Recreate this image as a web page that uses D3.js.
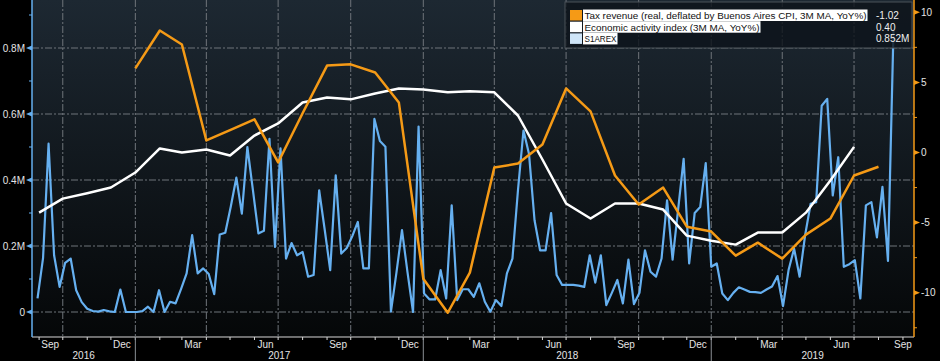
<!DOCTYPE html>
<html lang="en">
<head>
<meta charset="UTF-8">
<title>Tax revenue vs economic activity vs S1AREX</title>
<script src="https://d3js.org/d3.v7.min.js"></script>
<style>
    body { margin: 0; background: #000; }
    svg { display: block; font-family: "Liberation Sans", Arial, sans-serif; }
    .grid line { stroke: #6f747a; stroke-width: 1; stroke-dasharray: 7,2,2,2; }
    .axis-text { fill: #e4e4e4; font-size: 10px; }
</style>
</head>
<body>
<svg></svg>
<script>
    // Tax revenue (real, deflated by Buenos Aires CPI, 3M MA, YoY%), monthly from Dec 2016
    const taxStart = "2016-12";
    const taxValues = [6.0, 8.7, 7.7, 0.86, 1.6, 2.36, -0.71, 2.8, 6.2, 6.29, 5.71, 3.57,
        -9.0, -11.43, -8.57, -1.07, -0.79, 0.57, 4.57, 2.93, -1.64, -3.71, -2.5, -5.29,
        -5.64, -7.36, -6.43, -7.57, -5.86, -4.71, -1.64, -1.02];

    // Economic activity index (3M MA, YoY%), monthly from Aug 2016
    const activityStart = "2016-08";
    const activityValues = [-4.29, -3.29, -2.9, -2.5, -1.43, 0.29, 0.0, 0.21, -0.21, 1.21, 2.07, 3.57,
        3.93, 3.79, 4.21, 4.57, 4.5, 4.29, 4.36, 4.29, 2.64, -0.5, -3.64, -4.71,
        -3.64, -3.64, -4.07, -5.93, -6.29, -6.57, -5.71, -5.71, -4.29, -2.0, 0.40];

    // S1AREX, weekly from 30 Aug 2016, in millions
    const s1arexStart = "2016-08-30";
    const s1arexValues = [
        0.041, 0.163, 0.51, 0.172, 0.076, 0.149, 0.162, 0.066, 0.03, 0.01,
        0.003, 0.001, 0.006, 0.002, 0.0, 0.068, 0.0, 0.0, 0.0, 0.003,
        0.016, 0.0, 0.066, 0.0, 0.031, 0.026, 0.07, 0.117, 0.233, 0.117,
        0.132, 0.115, 0.054, 0.235, 0.24, 0.32, 0.407, 0.298, 0.50, 0.37,
        0.238, 0.246, 0.525, 0.197, 0.496, 0.162, 0.209, 0.172, 0.182, 0.107,
        0.112, 0.369, 0.25, 0.127, 0.414, 0.177, 0.194, 0.23, 0.273, 0.132,
        0.132, 0.585, 0.518, 0.501, 0.001, 0.12, 0.248, 0.12, 0.0, 0.562,
        0.056, 0.038, 0.038, 0.127, 0.041, 0.323, 0.036, 0.069, 0.069, 0.046,
        0.087, 0.031, 0.001, 0.036, 0.018, 0.117, 0.162, 0.369, 0.55, 0.479,
        0.278, 0.187, 0.187, 0.30, 0.112, 0.082, 0.082, 0.082, 0.08, 0.076,
        0.172, 0.089, 0.172, 0.021, 0.058, 0.097, 0.026, 0.159, 0.024, 0.058,
        0.187, 0.122, 0.107, 0.162, 0.338, 0.159, 0.31, 0.464, 0.147, 0.30,
        0.318, 0.451, 0.137, 0.147, 0.056, 0.036, 0.058, 0.075, 0.068, 0.061,
        0.06, 0.058, 0.068, 0.077, 0.109, 0.018, 0.127, 0.192, 0.107, 0.233,
        0.328, 0.333, 0.625, 0.646, 0.353, 0.469, 0.137, 0.145, 0.157, 0.041,
        0.323, 0.333, 0.226, 0.379, 0.155, 0.852];

    const leftTicks = [0, 0.2, 0.4, 0.6, 0.8];
    const leftMinorTicks = [0.1, 0.3, 0.5, 0.7, 0.9];
    const leftTickLabels = ["0", "0.2M", "0.4M", "0.6M", "0.8M"];
    const rightTicks = [-10, -5, 0, 5, 10];
    const rightMinorTicks = [-12.5, -7.5, -2.5, 2.5, 7.5];
    const monthNames = ["Jan", "Feb", "Mar", "Apr", "May", "Jun", "Jul", "Aug", "Sep", "Oct", "Nov", "Dec"];
    const years = [2016, 2017, 2018, 2019];
    const legendLabels = ["Tax revenue (real, deflated by Buenos Aires CPI, 3M MA, YoY%)",
        "Economic activity index (3M MA, YoY%)", "S1AREX"];
    const legendValues = ["-1.02", "0.40", "0.852M"];

    const width = 940, height = 361;
    const plot = { left: 32, right: 914, top: 0, bottom: 337 };
    const blue = "#66b0f0", orange = "#f59a16";

    const parseMonth = d3.timeParse("%Y-%m");
    const parseDay = d3.timeParse("%Y-%m-%d");

    // monthly figures sit at the end of their month
    const monthly = (start, values) => values.map((v, i) => ({
        date: d3.timeMonth.offset(parseMonth(start), i + 1), value: v
    }));
    const taxData = monthly(taxStart, taxValues);
    const activityData = monthly(activityStart, activityValues);
    const s1arexData = s1arexValues.map((v, i) => ({
        date: d3.timeDay.offset(parseDay(s1arexStart), i * 7), value: v
    }));

    const svg = d3.select("svg").attr("width", width).attr("height", height);

    const x = d3.scaleTime()
        .domain([new Date(2016, 7, 23), new Date(2019, 8, 15)])
        .range([plot.left, plot.right]);
    const yL = d3.scaleLinear().domain([0, 0.8]).range([312, 48]);
    const yR = d3.scaleLinear().domain([-10, 10]).range([292.7, 12.3]);

    // plot background
    const defs = svg.append("defs");
    const grad = defs.append("linearGradient")
        .attr("id", "bg").attr("x1", 0).attr("y1", 0).attr("x2", 0).attr("y2", 1);
    grad.append("stop").attr("offset", "0%").attr("stop-color", "#1d2832");
    grad.append("stop").attr("offset", "100%").attr("stop-color", "#050708");
    defs.append("clipPath").attr("id", "clip")
        .append("rect")
        .attr("x", plot.left).attr("y", plot.top)
        .attr("width", plot.right - plot.left).attr("height", plot.bottom - plot.top);

    svg.append("rect")
        .attr("x", plot.left).attr("y", plot.top)
        .attr("width", plot.right - plot.left).attr("height", plot.bottom - plot.top)
        .attr("fill", "url(#bg)");

    // grid
    const grid = svg.append("g").attr("class", "grid");
    grid.selectAll(".h").data(leftTicks).enter().append("line")
        .attr("x1", plot.left).attr("x2", plot.right)
        .attr("y1", d => yL(d)).attr("y2", d => yL(d));
    const quarters = d3.timeMonth.every(3).range(x.domain()[0], x.domain()[1]);
    grid.selectAll(".v").data(quarters).enter().append("line")
        .attr("x1", d => x(d)).attr("x2", d => x(d))
        .attr("y1", plot.top).attr("y2", plot.bottom);

    // series
    const lines = svg.append("g").attr("clip-path", "url(#clip)");
    lines.append("path").datum(s1arexData)
        .attr("fill", "none").attr("stroke", blue).attr("stroke-width", 2.2)
        .attr("stroke-linejoin", "round")
        .attr("d", d3.line().x(d => x(d.date)).y(d => yL(d.value)));
    lines.append("path").datum(activityData)
        .attr("fill", "none").attr("stroke", "#ffffff").attr("stroke-width", 2.5)
        .attr("stroke-linejoin", "round")
        .attr("d", d3.line().x(d => x(d.date)).y(d => yR(d.value)));
    lines.append("path").datum(taxData)
        .attr("fill", "none").attr("stroke", orange).attr("stroke-width", 2.5)
        .attr("stroke-linejoin", "round")
        .attr("d", d3.line().x(d => x(d.date)).y(d => yR(d.value)));

    // x axis
    const xAxis = svg.append("g");
    xAxis.append("line")
        .attr("x1", plot.left).attr("x2", plot.right)
        .attr("y1", plot.bottom).attr("y2", plot.bottom)
        .attr("stroke", "#d8d8d8").attr("stroke-width", 1);
    const months = d3.timeMonth.range(x.domain()[0], x.domain()[1]);
    xAxis.selectAll(".mt").data(months).enter().append("line")
        .attr("x1", d => x(d)).attr("x2", d => x(d))
        .attr("y1", plot.bottom).attr("y2", plot.bottom + 3)
        .attr("stroke", "#d8d8d8");
    const labelled = months.filter(d => d.getMonth() % 3 === 2);
    xAxis.selectAll(".ml").data(labelled).enter().append("text")
        .attr("class", "axis-text")
        .attr("x", d => Math.min(x(d3.timeDay.offset(d, 14)), plot.right - 11))
        .attr("y", 348)
        .attr("text-anchor", "middle")
        .text(d => monthNames[d.getMonth()]);
    xAxis.selectAll(".yl").data(years).enter().append("text")
        .attr("class", "axis-text")
        .attr("x", d => {
            const a = Math.max(x(new Date(d, 0, 1)), plot.left);
            const b = Math.min(x(new Date(d + 1, 0, 1)), plot.right);
            return (a + b) / 2;
        })
        .attr("y", 359)
        .attr("text-anchor", "middle")
        .text(d => d);
    xAxis.selectAll(".ys").data(years.slice(1)).enter().append("line")
        .attr("x1", d => x(new Date(d, 0, 1))).attr("x2", d => x(new Date(d, 0, 1)))
        .attr("y1", plot.bottom).attr("y2", height)
        .attr("stroke", "#8a8f94").attr("stroke-width", 1);

    // left axis
    const left = svg.append("g");
    left.append("line")
        .attr("x1", plot.left).attr("x2", plot.left)
        .attr("y1", plot.top).attr("y2", plot.bottom)
        .attr("stroke", blue).attr("stroke-width", 1.5);
    left.selectAll(".mn").data(leftMinorTicks).enter().append("line")
        .attr("x1", plot.left - 3).attr("x2", plot.left)
        .attr("y1", d => yL(d)).attr("y2", d => yL(d))
        .attr("stroke", blue);
    left.selectAll(".mj").data(leftTicks).enter().append("path")
        .attr("d", d => `M${plot.left},${yL(d) - 2.5}L${plot.left - 6},${yL(d)}L${plot.left},${yL(d) + 2.5}Z`)
        .attr("fill", blue);
    left.selectAll(".lb").data(leftTicks).enter().append("text")
        .attr("class", "axis-text")
        .attr("x", 25).attr("y", d => yL(d) + 3.5)
        .attr("text-anchor", "end")
        .text((d, i) => leftTickLabels[i]);

    // right axis
    const right = svg.append("g");
    right.append("line")
        .attr("x1", plot.right).attr("x2", plot.right)
        .attr("y1", plot.top).attr("y2", plot.bottom)
        .attr("stroke", orange).attr("stroke-width", 1.5);
    right.selectAll(".mn").data(rightMinorTicks).enter().append("line")
        .attr("x1", plot.right).attr("x2", plot.right + 3)
        .attr("y1", d => yR(d)).attr("y2", d => yR(d))
        .attr("stroke", orange);
    right.selectAll(".mj").data(rightTicks).enter().append("path")
        .attr("d", d => `M${plot.right},${yR(d) - 2.5}L${plot.right + 6},${yR(d)}L${plot.right},${yR(d) + 2.5}Z`)
        .attr("fill", orange);
    right.selectAll(".lb").data(rightTicks).enter().append("text")
        .attr("class", "axis-text")
        .attr("x", 921).attr("y", d => yR(d) + 3.5)
        .text(d => d);

    // legend
    const legend = svg.append("g").attr("transform", "translate(565,2)");
    legend.append("rect")
        .attr("width", 347).attr("height", 46)
        .attr("fill", "rgba(14,20,27,0.82)").attr("stroke", "#4b5259");
    const swatchColors = [orange, "#ffffff", "#cfe5f8"];
    const rowY = [17, 28.7, 40.4];
    const labelWidths = [282, 175, 32];
    legendLabels.forEach((label, i) => {
        legend.append("rect")
            .attr("x", 5).attr("y", rowY[i] - 9).attr("width", 12).attr("height", 10.5)
            .attr("fill", swatchColors[i]);
        legend.append("rect")
            .attr("x", 18).attr("y", rowY[i] - 9.5).attr("width", labelWidths[i] + 2.5).attr("height", 11.5)
            .attr("fill", "#ffffff");
        legend.append("text")
            .attr("x", 19.5).attr("y", rowY[i])
            .attr("font-size", "9.6px").attr("fill", "#111")
            .attr("textLength", labelWidths[i]).attr("lengthAdjust", "spacingAndGlyphs")
            .text(label);
        legend.append("text")
            .attr("x", 311).attr("y", rowY[i])
            .attr("font-size", "10px").attr("fill", "#f0f0f0")
            .text(legendValues[i]);
    });
</script>
</body>
</html>
